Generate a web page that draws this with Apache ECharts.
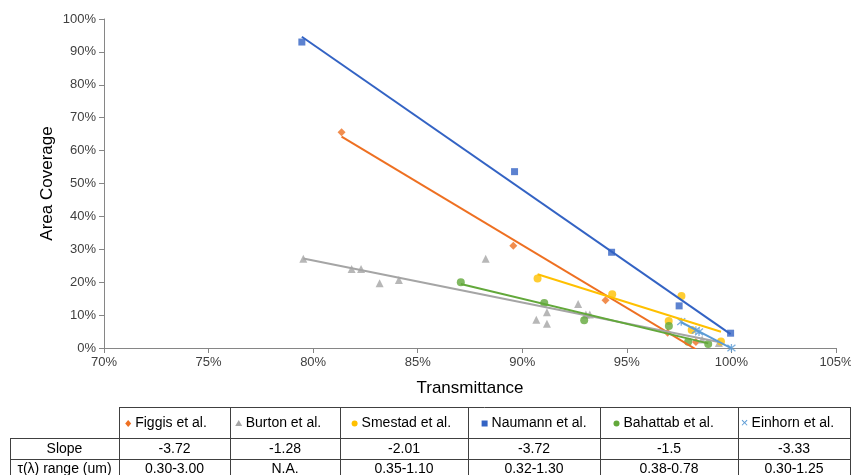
<!DOCTYPE html>
<html><head><meta charset="utf-8">
<script src="https://cdn.jsdelivr.net/npm/echarts@6/dist/echarts.min.js"></script>
<style>html,body{margin:0;padding:0;background:#fff}#c{width:851px;height:475px}</style>
</head><body><div id="c"></div>
<script>
// ---- data ----
const seriesNames = ['Figgis et al.', 'Burton et al.', 'Smestad et al.', 'Naumann et al.', 'Bahattab et al.', 'Einhorn et al.'];
const figgis   = [[81.36,65.6],[89.57,31.1],[93.98,14.5],[96.95,4.6],[98.3,1.8]];
const burton   = [[79.53,27.1],[81.84,24.0],[82.29,24.0],[83.18,19.7],[84.10,20.7],[88.25,27.1],[90.67,8.6],[91.18,10.9],[91.18,7.4],[92.67,13.4],[93.04,10.2],[93.23,10.2],[98.6,2.6],[99.4,1.5]];
const smestad  = [[90.73,21.1],[94.30,16.3],[97.61,15.8],[97.0,8.2],[98.1,5.5],[99.5,2.0]];
const naumann  = [[79.46,93.0],[89.63,53.6],[94.27,29.1],[97.5,12.8],[99.96,4.5]];
const bahattab = [[87.06,20.0],[91.05,13.7],[92.96,8.4],[97.01,6.7],[97.93,1.9],[98.89,1.2]];
const einhorn  = [[97.6,8.0],[98.3,5.4],[98.45,4.9],[100.0,0.0]];
const slopeLabels = ['-3.72', '-1.28', '-2.01', '-3.72', '-1.5', '-3.33'];
const rangeLabels = ['0.30-3.00', 'N.A.', '0.35-1.10', '0.32-1.30', '0.38-0.78', '0.30-1.25'];
const rowLabels = ['Slope', 'τ(λ) range (um)'];
const xAxisTitle = 'Transmittance';
const yAxisTitle = 'Area Coverage';

// ---- styles ----
const FONT = "'Liberation Sans', sans-serif";
const colors = ['#EE7022', '#A5A5A5', '#FFC000', '#3363C4', '#62A83A', '#5B9BD5'];
const ASTER = 'path://M0 0L10 10M10 0L0 10M5 -1L5 11';
const symbols = ['diamond', 'triangle', 'circle', 'rect', 'circle', ASTER];
const symSizes = [8, 8, 8, 7, 8, 8];
const allData = [figgis, burton, smestad, naumann, bahattab, einhorn];

function trend(pts) {
  const n = pts.length;
  let sx = 0, sy = 0;
  pts.forEach(p => { sx += p[0]; sy += p[1]; });
  const mx = sx / n, my = sy / n;
  let sxy = 0, sxx = 0;
  pts.forEach(p => { sxy += (p[0]-mx)*(p[1]-my); sxx += (p[0]-mx)*(p[0]-mx); });
  const b = sxy / sxx;
  const xs = pts.map(p => p[0]);
  const x0 = Math.min(...xs), x1 = Math.max(...xs);
  return [[x0, my + b*(x0-mx)], [x1, my + b*(x1-mx)]];
}

const series = [];
allData.forEach((d, i) => {
  const isAst = symbols[i] === ASTER;
  series.push({
    type: 'scatter', name: seriesNames[i], data: d,
    symbol: symbols[i], symbolSize: symSizes[i],
    itemStyle: isAst ? { color: 'rgba(0,0,0,0)', borderColor: colors[i], borderWidth: 1.3 } : { color: colors[i] },
    z: 3
  });
});
allData.forEach((d, i) => {
  series.push({
    type: 'line', name: seriesNames[i] + ' trend', data: trend(d),
    showSymbol: false, symbol: 'none',
    lineStyle: { color: colors[i], width: 2 }, z: 4, silent: true
  });
});

// ---- data table drawn below the chart ----
const colEdges = [119, 230, 340, 468, 600, 738, 850];
const tableLeft = 10;
const rowY = [407, 438, 459, 490];
const graphics = [];
const lineStyle = { stroke: '#404040', lineWidth: 1 };
function hline(x1, x2, y) { graphics.push({ type: 'line', shape: { x1, y1: y, x2, y2: y }, style: lineStyle, silent: true }); }
function vline(x, y1, y2) { graphics.push({ type: 'line', shape: { x1: x, y1, x2: x, y2 }, style: lineStyle, silent: true }); }
hline(colEdges[0], colEdges[6], rowY[0] + 0.5);
hline(tableLeft, colEdges[6], rowY[1] + 0.5);
hline(tableLeft, colEdges[6], rowY[2] + 0.5);
vline(tableLeft + 0.5, rowY[1], rowY[3]);
colEdges.forEach(x => vline(x + 0.5, rowY[0], rowY[3]));

function txt(text, cx, cy) {
  graphics.push({ type: 'text', x: cx, y: cy, silent: true,
    style: { text, fill: '#000', font: '14px ' + FONT, textAlign: 'center', textVerticalAlign: 'middle' } });
}
const headerY = (rowY[0] + rowY[1]) / 2 + 1;
const slopeY = (rowY[1] + rowY[2]) / 2 + 0.5;
const rangeY = 469;
seriesNames.forEach((nm, i) => {
  const cx = (colEdges[i] + colEdges[i+1]) / 2;
  const textW = nm.length * 6.2;
  const mx = cx - textW / 2 - 6;
  if (symbols[i] === ASTER) {
    graphics.push({ type: 'text', x: mx, y: headerY, silent: true, style: { text: '×', fill: colors[i], font: '13px ' + FONT, textAlign: 'center', textVerticalAlign: 'middle' } });
  } else if (symbols[i] === 'rect') {
    graphics.push({ type: 'rect', shape: { x: mx - 3, y: headerY - 3, width: 6, height: 6 }, style: { fill: colors[i] }, silent: true });
  } else if (symbols[i] === 'circle') {
    graphics.push({ type: 'circle', shape: { cx: mx, cy: headerY, r: 3 }, style: { fill: colors[i] }, silent: true });
  } else if (symbols[i] === 'triangle') {
    graphics.push({ type: 'polygon', shape: { points: [[mx, headerY-3.5],[mx+3.5, headerY+2.5],[mx-3.5, headerY+2.5]] }, style: { fill: colors[i] }, silent: true });
  } else {
    graphics.push({ type: 'polygon', shape: { points: [[mx, headerY-3.5],[mx+3, headerY],[mx, headerY+3.5],[mx-3, headerY]] }, style: { fill: colors[i] }, silent: true });
  }
  graphics.push({ type: 'text', x: mx + 7, y: headerY, silent: true,
    style: { text: nm, fill: '#000', font: '14px ' + FONT, textAlign: 'left', textVerticalAlign: 'middle' } });
  txt(slopeLabels[i], cx, slopeY);
  txt(rangeLabels[i], cx, rangeY);
});
txt(rowLabels[0], (tableLeft + colEdges[0]) / 2, slopeY);
txt(rowLabels[1], (tableLeft + colEdges[0]) / 2, rangeY);

const chart = echarts.init(document.getElementById('c'), null, { renderer: 'canvas' });
chart.setOption({
  animation: false,
  backgroundColor: '#fff',
  grid: { left: 104, right: 15, top: 19, bottom: 127, containLabel: false, outerBoundsMode: 'none' },
  xAxis: {
    type: 'value', min: 70, max: 105, interval: 5,
    name: xAxisTitle, nameLocation: 'middle', nameGap: 32, nameMoveOverlap: false,
    nameTextStyle: { fontFamily: FONT, fontSize: 17, color: '#000' },
    axisLine: { show: true, lineStyle: { color: '#868686', width: 1 } },
    axisTick: { show: true, length: 5, lineStyle: { color: '#868686' } },
    axisLabel: { formatter: v => v + '%', fontFamily: FONT, fontSize: 13, color: '#404040', margin: 8 },
    splitLine: { show: false }
  },
  yAxis: {
    type: 'value', min: 0, max: 100, interval: 10,
    name: yAxisTitle, nameLocation: 'middle', nameGap: 48, nameMoveOverlap: false,
    nameTextStyle: { fontFamily: FONT, fontSize: 17, color: '#000' },
    axisLine: { show: true, lineStyle: { color: '#868686', width: 1 } },
    axisTick: { show: true, length: 5, lineStyle: { color: '#868686' } },
    axisLabel: { formatter: v => v + '%', fontFamily: FONT, fontSize: 13, color: '#404040', margin: 8 },
    splitLine: { show: false }
  },
  series: series,
  graphic: graphics
});
</script></body></html>
